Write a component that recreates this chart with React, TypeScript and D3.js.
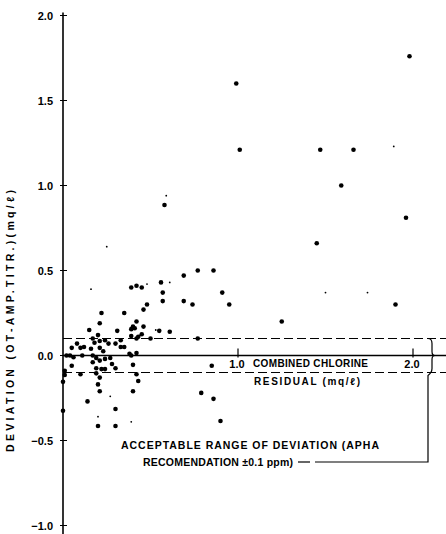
import React from "react";
import * as d3 from "d3";

// deviation vs combined chlorine residual
const bigX = [
  1.98, 0.99, 1.01, 1.47, 1.66, 1.59, 0.58, 1.96, 1.45, 0.77, 0.86, 0.69, 0.56, 0.57, 0.91, 0.57,
  0.69, 0.74, 0.95, 1.25, 1.9, 0.39, 0.42, 0.45, 0.48, 0.46, 0.22, 0.35, 0.21, 0.42, 0.4, 0.15,
  0.31, 0.39, 0.41, 0.45, 0.46, 0.55, 0.61, 0.2, 0.39, 0.43, 0.5, 0.77, 0.17, 0.21, 0.24, 0.18,
  0.08, 0.12, 0.16, 0.05, 0.1, 0.21, 0.23, 0.26, 0.3, 0.33, 0.35, 0.33, 0.42, 0.38, 0.39, 0.42,
  0.02, 0.04, 0.06, 0.11, 0.17, 0.19, 0.17, 0.21, 0.24, 0.27, 0.05, 0.19, 0.22, 0.24, 0.28, 0.3,
  0.4, 0.1, 0.19, 0.21, 0.01, 0.01, 0.0, 0.2, 0.42, 0.43, 0.21, 0.4, 0.14, 0.3, 0.0, 0.2, 0.3,
  0.85, 0.79, 0.86, 0.9,
];
const bigY = [
  1.76, 1.6, 1.21, 1.21, 1.21, 1.0, 0.885, 0.81, 0.66, 0.5, 0.5, 0.47, 0.43, 0.37, 0.37, 0.32,
  0.32, 0.3, 0.3, 0.2, 0.3, 0.4, 0.41, 0.4, 0.3, 0.27, 0.25, 0.25, 0.19, 0.2, 0.17, 0.15,
  0.145, 0.155, 0.16, 0.125, 0.17, 0.145, 0.14, 0.12, 0.115, 0.11, 0.1, 0.1, 0.1, 0.085, 0.09, 0.075,
  0.07, 0.05, 0.04, 0.045, 0.045, 0.045, 0.025, 0.07, 0.07, 0.05, 0.05, 0.09, 0.1, 0.01, 0.0, 0.015,
  0.0, 0.0, -0.01, 0.0, 0.0, -0.015, -0.04, -0.03, -0.02, -0.015, -0.06, -0.075, -0.08, -0.08, -0.05, -0.075,
  -0.055, -0.11, -0.105, -0.13, -0.09, -0.115, -0.155, -0.17, -0.11, -0.15, -0.21, -0.21, -0.27, -0.315, -0.325, -0.415, -0.415,
  -0.06, -0.22, -0.255, -0.385,
];
const smallX = [1.89, 0.48, 0.16, 0.25, 0.59, 0.61, 1.5, 1.74, 0.27, 0.2, 0.39, 0.53];
const smallY = [1.23, 0.42, 0.39, 0.64, 0.94, 0.43, 0.37, 0.37, -0.24, -0.36, -0.39, 0.15];

const yTicks = [-1.0, -0.5, 0.0, 0.5, 1.0, 1.5, 2.0];
const xTicks = [1.0, 2.0];
const band = 0.1;

const W = 446;
const H = 534;
const font = "'Liberation Sans', Arial, sans-serif";

export default function App() {
  const x = d3.scaleLinear().domain([0, 2]).range([63, 413]);
  const y = d3.scaleLinear().domain([-1, 2]).range([525.5, 15.5]);
  const fmt = (v: number) => (v < 0 ? "\u2212" : "") + d3.format(".1f")(Math.abs(v));

  const braceX = 432;
  const yTop = y(band);
  const yBot = y(-band);
  const yMid = y(0);
  const brace = `M ${braceX - 4},${yTop} Q ${braceX},${yTop} ${braceX},${yTop + 5} L ${braceX},${yMid - 4} Q ${braceX},${yMid} ${braceX + 3},${yMid} Q ${braceX},${yMid} ${braceX},${yMid + 4} L ${braceX},${yBot - 4} Q ${braceX},${yBot} ${braceX - 4},${yBot + 3} L ${braceX - 4},462 L 315,462`;

  return (
    <svg
      width={W}
      height={H}
      style={{ position: "absolute", left: 0, top: 0, background: "#fff" }}
      fontFamily={font}
    >
      {/* y axis */}
      <line x1={x(0)} x2={x(0)} y1={y(2) - 3} y2={H} stroke="#000" strokeWidth={1.6} />
      {yTicks.map((t) => (
        <g key={t}>
          <line x1={x(0) - 3} x2={x(0) + 4} y1={y(t)} y2={y(t)} stroke="#000" strokeWidth={1} />
          <text x={53} y={y(t) + 4} textAnchor="end" fontSize={11} fontWeight="bold">
            {fmt(t)}
          </text>
        </g>
      ))}
      <text
        transform={`translate(14,${321}) rotate(-90)`}
        textAnchor="middle"
        fontSize={10.5}
        fontWeight="bold"
        textLength={262}
        lengthAdjust="spacing"
      >
        DEVIATION (OT-AMP.TITR.)(mq/ℓ)
      </text>

      {/* zero line and acceptable band */}
      <line x1={x(0)} x2={W} y1={yMid} y2={yMid} stroke="#000" strokeWidth={1.3} />
      <line x1={x(0)} x2={W} y1={yTop} y2={yTop} stroke="#000" strokeWidth={1} strokeDasharray="9,4" />
      <line x1={x(0)} x2={W} y1={yBot} y2={yBot} stroke="#000" strokeWidth={1} strokeDasharray="9,4" />
      {xTicks.map((t) => (
        <g key={t}>
          <line x1={x(t)} x2={x(t)} y1={yMid - 7} y2={yMid + 2} stroke="#000" strokeWidth={1.2} />
          <text x={x(t) - 1} y={yMid + 12} textAnchor="middle" fontSize={11} fontWeight="bold">
            {fmt(t)}
          </text>
        </g>
      ))}
      <text x={253} y={yMid + 11} fontSize={10} fontWeight="bold" textLength={115} lengthAdjust="spacing">
        COMBINED CHLORINE
      </text>
      <text x={254} y={yMid + 29} fontSize={10} fontWeight="bold" textLength={106} lengthAdjust="spacing">
        RESIDUAL (mq/ℓ)
      </text>

      {/* bracket and note */}
      <path d={brace} fill="none" stroke="#000" strokeWidth={1.2} />
      <line x1={298} x2={310} y1={462} y2={462} stroke="#000" strokeWidth={1.2} />
      <text x={121} y={449} fontSize={10.5} fontWeight="bold" textLength={258} lengthAdjust="spacing">
        ACCEPTABLE RANGE OF DEVIATION (APHA
      </text>
      <text x={143} y={466} fontSize={10.5} fontWeight="bold" textLength={150} lengthAdjust="spacing">
        RECOMENDATION ±0.1 ppm)
      </text>

      {/* points */}
      {bigX.map((v, i) => (
        <circle key={"b" + i} cx={x(v)} cy={y(bigY[i])} r={2.3} fill="#000" />
      ))}
      {smallX.map((v, i) => (
        <circle key={"s" + i} cx={x(v)} cy={y(smallY[i])} r={0.9} fill="#000" />
      ))}
    </svg>
  );
}
